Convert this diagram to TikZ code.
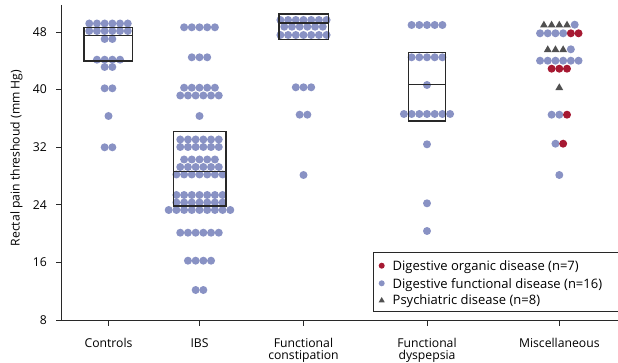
\documentclass[tikz,border=0pt]{standalone}
\usepackage{fontspec}
\setmainfont{Open Sans}
\usetikzlibrary{shapes.geometric}
\definecolor{dotblue}{RGB}{137,146,196}
\definecolor{dotred}{RGB}{166,25,50}
\definecolor{trigrey}{RGB}{80,80,80}
\definecolor{axisgrey}{RGB}{40,40,40}
\newcommand\drow[3]{\foreach \k in {1,...,#3}{\fill[dotblue] ({#1+(\k-(#3+1)/2)*7.7},#2) circle[radius=4];}}
\tikzset{
  axisline/.style={draw=axisgrey, line width=0.9pt},
  boxline/.style={draw=axisgrey, line width=1.1pt},
  mB/.style={circle, fill=dotblue, minimum size=8pt, inner sep=0pt},
  mR/.style={circle, fill=dotred, minimum size=8pt, inner sep=0pt},
  mT/.style={regular polygon, regular polygon sides=3, fill=trigrey, minimum size=9pt, inner sep=0pt},
  lab/.style={font=\fontsize{12.2}{14.5}\selectfont, text=black, inner sep=0pt},
  legtext/.style={font=\fontsize{13}{15}\selectfont, text=black, inner sep=0pt, anchor=base west},
}
\begin{document}
\begin{tikzpicture}[x=1pt,y=-1pt]
\useasboundingbox (0,0) rectangle (618,363);
% axes
\coordinate (ytop) at (61,5);
\coordinate (orig) at (61,320);
\coordinate (xend) at (618,320);
\draw[axisline] (ytop) -- (orig) -- (xend);
\foreach \v in {8,16,24,32,40,48}{
  \coordinate (yt\v) at (61,{320-(\v-8)*7.2});
  \draw[axisline] (yt\v) -- ++(-5.5,0);
  \node[lab, anchor=east] (yl\v) at (47,{320-(\v-8)*7.2}) {\v};
}
\node[lab, rotate=90] (ylabel) at (16.5,158) {Rectal pain threshoud (mm Hg)};
% x ticks and labels
\foreach \cx/\nm in {108.5/c1, 199.5/c2, 303.5/c3, 427/c4, 559.3/c5}{
  \coordinate (xt\nm) at (\cx,320);
  \draw[axisline] (xt\nm) -- ++(0,5.5);
}
\node[lab, anchor=base] (xlc1) at (108.5,347.5) {Controls};
\node[lab, anchor=base] (xlc2) at (199.5,347.5) {IBS};
\node[lab, anchor=base] (xlc5) at (559.3,347.5) {Miscellaneous};
\node[lab, anchor=base] (xlc3) at (303.5,347.5) {Functional};
\node[lab, anchor=base] (xlc3b) at (303.5,359.6) {constipation};
\node[lab, anchor=base] (xlc4) at (427,347.5) {Functional};
\node[lab, anchor=base] (xlc4b) at (427,359.6) {dyspepsia};
% Controls
\foreach \y/\n in {23.5/6, 31/6, 39/2, 59.7/4, 67/2, 88.3/2, 116/1, 147.3/2}{\drow{108.5}{\y}{\n}}
% IBS
\foreach \y/\n in {27.3/5, 57.3/3, 87.7/5, 95.5/6, 116/1, 139.5/6, 147/6, 159.5/5, 167/6, 174.5/7, 195/7, 202.5/7, 210/9, 232.7/6, 260.7/4, 290/2}{\drow{199.5}{\y}{\n}}
% Functional constipation
\foreach \y/\n in {20/7, 26.7/6, 35/7, 87.3/3, 114.7/2, 175/1}{\drow{303.5}{\y}{\n}}
% Functional dyspepsia
\foreach \y/\n in {25/5, 57.3/5, 85/1, 114/7, 144.3/1, 203.3/1, 231/1}{\drow{427}{\y}{\n}}
% Miscellaneous
\node[mT] (m1) at (543.9,25.2) {};
\node[mT] (m2) at (551.6,25.2) {};
\node[mT] (m3) at (559.3,25.2) {};
\node[mT] (m4) at (567.0,25.2) {};
\node[mB] (m5) at (574.7,24.7) {};
\node[mB] (m6) at (540.05,33.3) {};
\node[mB] (m7) at (547.75,33.3) {};
\node[mB] (m8) at (555.45,33.3) {};
\node[mB] (m9) at (563.15,33.3) {};
\node[mR] (m10) at (570.85,33.3) {};
\node[mR] (m11) at (578.55,33.3) {};
\node[mT] (m12) at (547.75,49.8) {};
\node[mT] (m13) at (555.45,49.8) {};
\node[mT] (m14) at (563.15,49.8) {};
\node[mB] (m15) at (570.85,49.3) {};
\foreach \i in {1,...,6}{\node[mB] (m16\i) at ({559.3+(\i-3.5)*7.7},60.7) {};}
\node[mR] (m17) at (551.6,68.7) {};
\node[mR] (m18) at (559.3,68.7) {};
\node[mR] (m19) at (567.0,68.7) {};
\node[mT] (m20) at (559.3,87.8) {};
\node[mB] (m21) at (551.6,114.7) {};
\node[mB] (m22) at (559.3,114.7) {};
\node[mR] (m23) at (567.0,114.7) {};
\node[mB] (m24) at (555.45,143.7) {};
\node[mR] (m25) at (563.15,143.7) {};
\node[mB] (m26) at (559.3,175) {};
% boxes
\draw[boxline] (84,27.3) rectangle (132.7,61);
\draw[boxline] (84,35.5) -- (132.7,35.5);
\draw[boxline] (173.3,131.7) rectangle (226,206);
\draw[boxline] (173.3,171.3) -- (226,171.3);
\draw[boxline] (279,14) rectangle (328.7,39.3);
\draw[boxline] (279,23) -- (328.7,23);
\draw[boxline] (408.7,52.7) rectangle (445.7,121);
\draw[boxline] (408.7,84.3) -- (445.7,84.3);
% legend
\draw[draw=axisgrey, line width=0.8pt, fill=white] (373,252.7) rectangle (620,311.5);
\fill[dotred] (381.7,265.7) circle[radius=3];
\fill[dotblue] (381.7,283.3) circle[radius=3];
\node[regular polygon, regular polygon sides=3, fill=trigrey, minimum size=7pt, inner sep=0pt] (lt) at (381.7,300.5) {};
\node[legtext] (l1) at (392.5,270.4) {Digestive organic disease (n=7)};
\node[legtext] (l2) at (392.5,288) {Digestive functional disease (n=16)};
\node[legtext] (l3) at (392.5,304.7) {Psychiatric disease (n=8)};
\end{tikzpicture}
\end{document}
